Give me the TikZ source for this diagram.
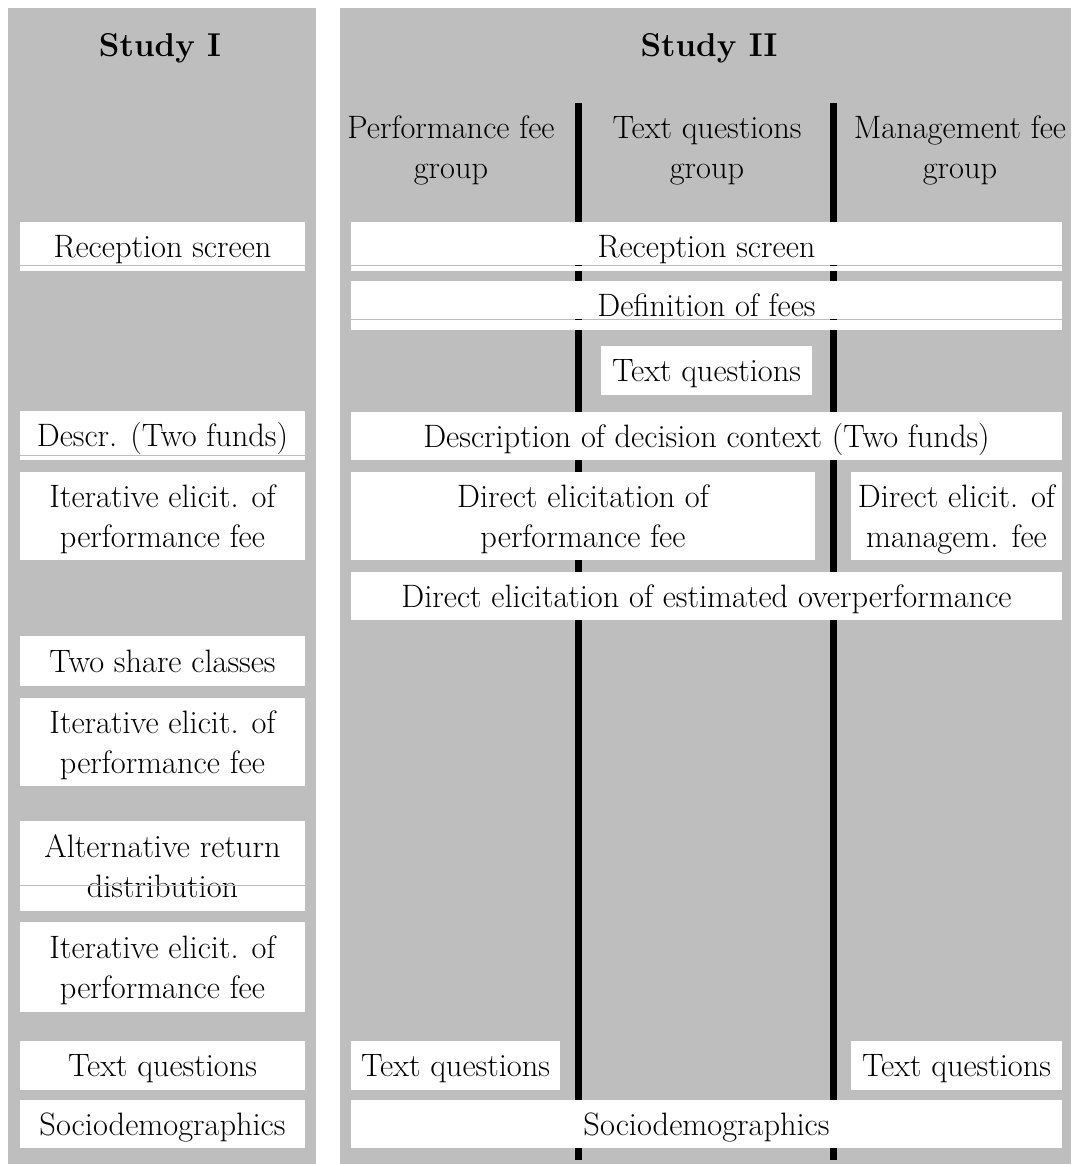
\documentclass[tikz,border=0pt]{standalone}
\definecolor{panel}{RGB}{190,190,190}
\newcommand\one[1]{\raisebox{0pt}[22.1pt][0pt]{#1}}
\newcommand\two[2]{\raisebox{0pt}[22.1pt][\depth]{#1}\\\raisebox{0pt}[\height][0pt]{#2}}
\newcommand\bx[6]{\node[stepbox, minimum width={#4-#2}, minimum height={#5-#3}] (#1) at ({(#2+#4)/2},{(#3+#5)/2}) {#6};}
\newcommand\gapline[2]{\draw[panel, line width=1pt] (#1.west |- 0,#2) -- (#1.east |- 0,#2);}
\begin{document}
\begin{tikzpicture}[x=1pt,y=-1pt,
  stepbox/.style={fill=white, inner sep=0pt, align=center, font=\fontsize{32.4}{40}\selectfont},
  label/.style={inner sep=0pt, align=center, font=\fontsize{32.4}{40}\selectfont},
  title/.style={inner sep=0pt, font=\fontsize{33}{38}\selectfont\bfseries},
  bar/.style={fill=black}]
\useasboundingbox (0,0) rectangle (1071,1164);
% panels
\fill[panel] (8,8) rectangle (316,1164);
\fill[panel] (340,8) rectangle (1071,1164);
% bars
\fill[bar] (574.5,103) rectangle (581.5,1160);
\fill[bar] (829.5,103) rectangle (836.5,1160);
% titles
\node[title] (s1) at (160,45) {\raisebox{0pt}[22.6pt][0pt]{Study I}};
\node[title] (s2) at (709,45) {\raisebox{0pt}[22.6pt][0pt]{Study II}};
\node[label] (h1) at (451,147) {\two{Performance fee}{group}};
\node[label] (h2) at (707,147) {\two{Text questions}{group}};
\node[label] (h3) at (960,147) {\two{Management fee}{group}};
% left column
\bx{l1}{20}{222}{305}{271}{\one{Reception screen}}
\bx{l2}{20}{411}{305}{460}{\one{Descr. (Two funds)}}
\bx{l3}{20}{472}{305}{560}{\two{Iterative elicit. of}{performance fee}}
\bx{l4}{20}{636}{305}{686}{\one{Two share classes}}
\bx{l5}{20}{698}{305}{786}{\two{Iterative elicit. of}{performance fee}}
\bx{l6}{20}{821}{305}{911}{\two{Alternative return}{distribution}}
\bx{l7}{20}{922}{305}{1012}{\two{Iterative elicit. of}{performance fee}}
\bx{l8}{20}{1041}{305}{1090}{\one{Text questions}}
\bx{l9}{20}{1100}{305}{1148}{\one{Sociodemographics}}
% right columns
\bx{r1}{351}{222}{1062}{271}{\one{Reception screen}}
\bx{r2}{351}{281}{1062}{330}{\one{Definition of fees}}
\bx{r3}{601}{346}{812}{395}{\one{Text questions}}
\bx{r4}{351}{412}{1062}{460}{\one{Description of decision context (Two funds)}}
\bx{r5}{351}{472}{815}{560}{\two{Direct elicitation of}{performance fee}}
\bx{r6}{851}{472}{1062}{560}{\two{Direct elicit. of}{managem. fee}}
\bx{r7}{351}{572}{1062}{620}{\one{Direct elicitation of estimated overperformance}}
\bx{r8}{351}{1041}{560}{1090}{\one{Text questions}}
\bx{r9}{851}{1041}{1062}{1090}{\one{Text questions}}
\bx{r10}{351}{1100}{1062}{1148}{\one{Sociodemographics}}
% thin gaps inside some boxes
\gapline{l1}{265}
\gapline{l2}{455}
\gapline{l6}{885}
\gapline{r1}{265}
\gapline{r2}{319}
\foreach \yy in {265,319} {
  \fill[bar] (574.5,\yy-0.5) rectangle (581.5,\yy+0.5);
  \fill[bar] (829.5,\yy-0.5) rectangle (836.5,\yy+0.5);
}
\end{tikzpicture}
\end{document}
